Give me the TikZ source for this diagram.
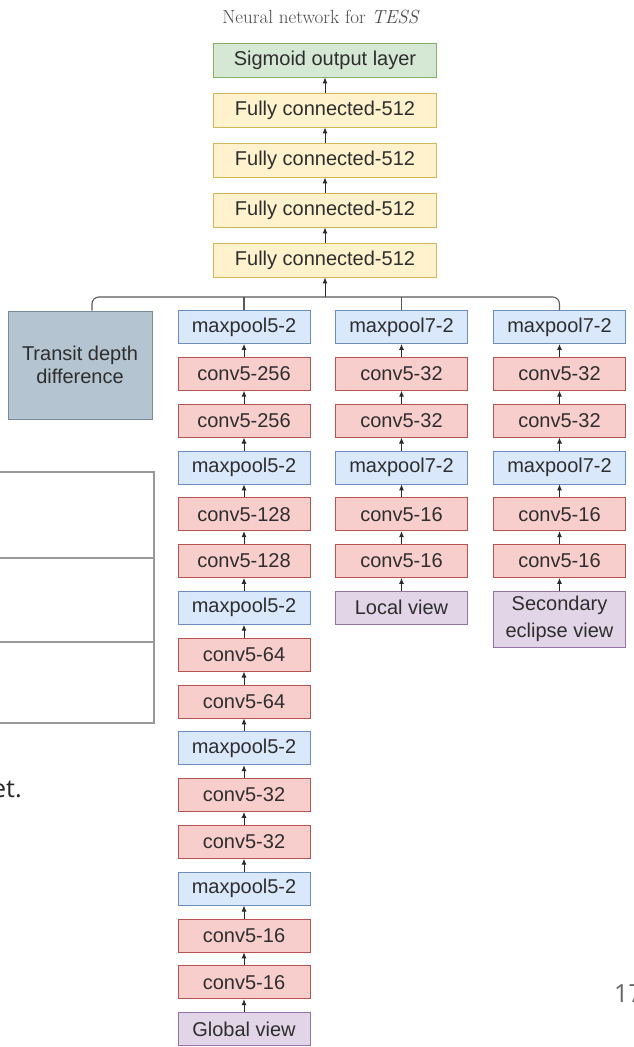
\documentclass[tikz,border=0pt]{standalone}
\usepackage{fontspec}
\usepackage{xcolor}
\usetikzlibrary{arrows.meta, positioning}
\newfontfamily\boxfont{Liberation Sans}
\newfontfamily\slidefont{Open Sans}

\definecolor{outfill}{HTML}{D5E8D4}
\definecolor{outdraw}{HTML}{82B366}
\definecolor{fcfill}{HTML}{FFF2CC}
\definecolor{fcdraw}{HTML}{D6B656}
\definecolor{poolfill}{HTML}{DAE8FC}
\definecolor{pooldraw}{HTML}{6C8EBF}
\definecolor{convfill}{HTML}{F8CECC}
\definecolor{convdraw}{HTML}{B85450}
\definecolor{viewfill}{HTML}{E1D5E7}
\definecolor{viewdraw}{HTML}{9673A6}
\definecolor{depthfill}{HTML}{B4C4D0}
\definecolor{depthdraw}{HTML}{7A8C99}
\definecolor{linkgray}{HTML}{2A2A2A}

\begin{document}
\begin{tikzpicture}[
    x=1pt, y=-1pt,
    node distance=13pt,
    box/.style={draw, rectangle, line width=0.8pt, align=center, text=black!82,
        font=\boxfont\fontsize{20}{23}\selectfont},
    outbox/.style={box, fill=outfill, draw=outdraw, minimum width=223pt, minimum height=34pt},
    fcbox/.style={box, fill=fcfill, draw=fcdraw, minimum width=223pt, minimum height=34pt},
    poolbox/.style={box, fill=poolfill, draw=pooldraw, minimum width=132pt, minimum height=33pt},
    convbox/.style={box, fill=convfill, draw=convdraw, minimum width=132pt, minimum height=33pt},
    viewbox/.style={box, fill=viewfill, draw=viewdraw, minimum width=132pt, minimum height=33pt},
    depthbox/.style={box, fill=depthfill, draw=depthdraw, minimum width=144pt, minimum height=108pt},
    arrow/.style={-{Latex[length=6pt, width=5pt]}, line width=1pt, draw=linkgray},
    busline/.style={line width=1.1pt, draw=black!65, rounded corners=7pt},
    tablerule/.style={line width=1.2pt, draw=black!40}
]

\fill[white] (0,0) rectangle (634,1047);
\useasboundingbox (0,0) rectangle (634,1047);

% Titulo
\node[font=\fontsize{19}{22}\selectfont, text=black!70] (title) at (321,17) {Neural network for \textit{TESS}};

% Camadas de saida
\node[outbox] (sigmoid) at (325,60) {Sigmoid output layer};
\node[fcbox, below=15.2pt of sigmoid] (fc1) {Fully connected-512};
\node[fcbox, below=15.2pt of fc1] (fc2) {Fully connected-512};
\node[fcbox, below=15.2pt of fc2] (fc3) {Fully connected-512};
\node[fcbox, below=15.2pt of fc3] (fc4) {Fully connected-512};
\coordinate (bus) at (325,297);

% Entrada escalar
\node[depthbox] (depth) at (80,365) {Transit depth\\difference};

% Coluna global
\node[poolbox] (g1) at (244,327) {maxpool5-2};
\node[convbox, below=of g1] (g2) {conv5-256};
\node[convbox, below=of g2] (g3) {conv5-256};
\node[poolbox, below=of g3] (g4) {maxpool5-2};
\node[convbox, below=of g4] (g5) {conv5-128};
\node[convbox, below=of g5] (g6) {conv5-128};
\node[poolbox, below=of g6] (g7) {maxpool5-2};
\node[convbox, below=of g7] (g8) {conv5-64};
\node[convbox, below=of g8] (g9) {conv5-64};
\node[poolbox, below=of g9] (g10) {maxpool5-2};
\node[convbox, below=of g10] (g11) {conv5-32};
\node[convbox, below=of g11] (g12) {conv5-32};
\node[poolbox, below=of g12] (g13) {maxpool5-2};
\node[convbox, below=of g13] (g14) {conv5-16};
\node[convbox, below=of g14] (g15) {conv5-16};
\node[viewbox, below=of g15] (global) {Global view};

% Coluna local
\node[poolbox] (l1) at (401.5,327) {maxpool7-2};
\node[convbox, below=of l1] (l2) {conv5-32};
\node[convbox, below=of l2] (l3) {conv5-32};
\node[poolbox, below=of l3] (l4) {maxpool7-2};
\node[convbox, below=of l4] (l5) {conv5-16};
\node[convbox, below=of l5] (l6) {conv5-16};
\node[viewbox, below=of l6] (local) {Local view};

% Coluna eclipse secundario
\node[poolbox] (s1) at (559.5,327) {maxpool7-2};
\node[convbox, below=of s1] (s2) {conv5-32};
\node[convbox, below=of s2] (s3) {conv5-32};
\node[poolbox, below=of s3] (s4) {maxpool7-2};
\node[convbox, below=of s4] (s5) {conv5-16};
\node[convbox, below=of s5] (s6) {conv5-16};
\node[viewbox, below=of s6, minimum height=56pt] (secondary) {Secondary\\[4pt]eclipse view};

% Setas da saida
\draw[arrow] (fc1) -- (sigmoid);
\draw[arrow] (fc2) -- (fc1);
\draw[arrow] (fc3) -- (fc2);
\draw[arrow] (fc4) -- (fc3);
\draw[arrow] (bus) -- (fc4);

% Barramento
\draw[busline] ([xshift=12pt]depth.north) |- (bus) -| (s1.north);
\draw[busline] (g1.north) -- (g1.north |- bus);
\draw[busline] (l1.north) -- (l1.north |- bus);

% Setas da coluna global
\draw[arrow] (g2) -- (g1);
\draw[arrow] (g3) -- (g2);
\draw[arrow] (g4) -- (g3);
\draw[arrow] (g5) -- (g4);
\draw[arrow] (g6) -- (g5);
\draw[arrow] (g7) -- (g6);
\draw[arrow] (g8) -- (g7);
\draw[arrow] (g9) -- (g8);
\draw[arrow] (g10) -- (g9);
\draw[arrow] (g11) -- (g10);
\draw[arrow] (g12) -- (g11);
\draw[arrow] (g13) -- (g12);
\draw[arrow] (g14) -- (g13);
\draw[arrow] (g15) -- (g14);
\draw[arrow] (global) -- (g15);

% Setas da coluna local
\draw[arrow] (l2) -- (l1);
\draw[arrow] (l3) -- (l2);
\draw[arrow] (l4) -- (l3);
\draw[arrow] (l5) -- (l4);
\draw[arrow] (l6) -- (l5);
\draw[arrow] (local) -- (l6);

% Setas da coluna secundaria
\draw[arrow] (s2) -- (s1);
\draw[arrow] (s3) -- (s2);
\draw[arrow] (s4) -- (s3);
\draw[arrow] (s5) -- (s4);
\draw[arrow] (s6) -- (s5);
\draw[arrow] (secondary) -- (s6);

% Restos do slide
\draw[tablerule] (0,472) -- (154,472) -- (154,723) -- (0,723);
\draw[tablerule] (0,558) -- (154,558);
\draw[tablerule] (0,642) -- (154,642);
\node[font=\slidefont\fontsize{25}{30}\selectfont, text=black!85, inner sep=0pt, anchor=base west] (cut) at (-8,797) {et.};
\node[font=\slidefont\fontsize{25}{30}\selectfont, text=black!60, inner sep=0pt, anchor=base west] (pageno) at (614,1002) {17};

\end{tikzpicture}
\end{document}
